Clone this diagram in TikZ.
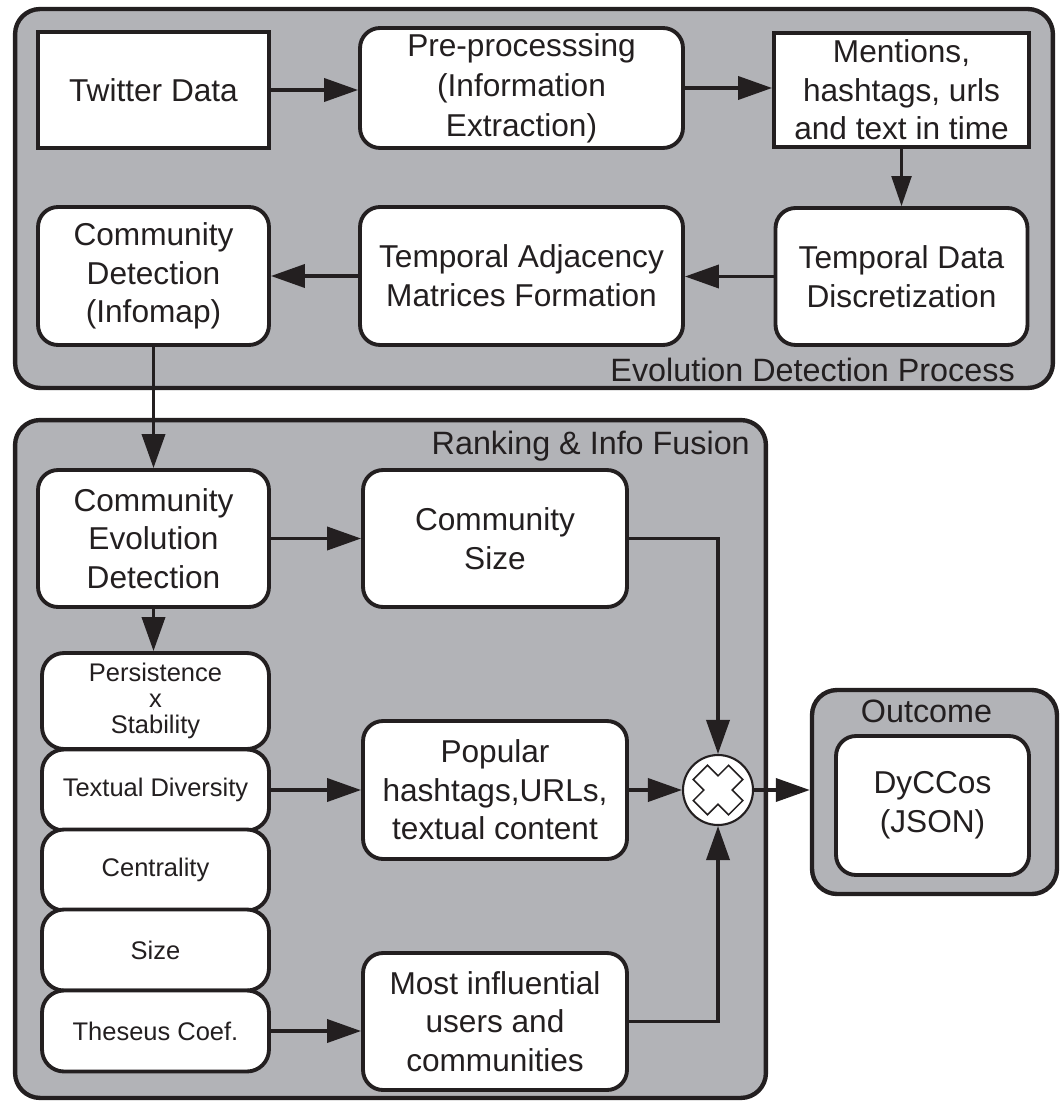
\documentclass[tikz,border=0pt]{standalone}
\usepackage{fontspec}
\setmainfont{Liberation Sans}
\usetikzlibrary{arrows.meta,positioning}
\definecolor{panelgray}{RGB}{178,179,183}
\definecolor{inkblack}{RGB}{35,31,32}

\begin{document}
\begin{tikzpicture}[x=0.02cm, y=-0.02cm, color=inkblack, >={Triangle[length=0.68cm, width=0.46cm]},
    group/.style={draw, fill=panelgray, rounded corners=0.5cm, line width=2.5pt, inner sep=0pt},
    grouplabel/.style={inner sep=0pt, font=\fontsize{18.4}{22}\selectfont},
    stepbox/.style={draw, fill=white, line width=2.2pt, align=center, inner sep=0pt, font=\fontsize{18}{22}\selectfont},
    roundbox/.style={stepbox, rounded corners=0.4cm},
    metric/.style={roundbox, rounded corners=0.44cm, minimum width=4.54cm, minimum height=1.62cm, font=\fontsize{14.5}{15}\selectfont},
    flow/.style={->, line width=2.1pt}]
    \useasboundingbox (0,0) rectangle (1063,1101);

    % containers
    \node (U) [group, minimum width=20.76cm, minimum height=7.58cm] at (534,198.5) {};
    \node (V) [group, minimum width=15.02cm, minimum height=13.56cm] at (390.5,759) {};
    \node (W) [group, minimum width=4.9cm, minimum height=4.08cm] at (934.5,792) {};
    \node (Ulbl) [grouplabel, anchor=base east] at ([shift={(-40,-9)}]U.south east) {Evolution Detection Process};
    \node (Vlbl) [grouplabel, anchor=base east] at ([shift={(-18,37)}]V.north east) {Ranking \& Info Fusion};
    \node (Wlbl) [grouplabel, anchor=base] at ([shift={(-8,35)}]W.north) {Outcome};

    % evolution detection
    \node (A) [stepbox, minimum width=4.62cm, minimum height=2.32cm] at (153.5,90) {Twitter Data};
    \node (B) [roundbox, minimum width=6.46cm, minimum height=2.4cm, font=\fontsize{18}{22.8}\selectfont] at (521.5,88) {Pre-processsing\\(Information\\Extraction)};
    \node (C) [stepbox, minimum width=5.1cm, minimum height=2.28cm] at (901.5,90) {Mentions,\\hashtags, urls\\and text in time};
    \node (D) [roundbox, minimum width=5.04cm, minimum height=2.74cm] at (901.5,276.5) {Temporal Data\\Discretization};
    \node (E) [roundbox, minimum width=6.46cm, minimum height=2.76cm] at (521.5,276) {Temporal Adjacency\\Matrices Formation};
    \node (F) [roundbox, minimum width=4.62cm, minimum height=2.76cm] at (153.5,276) {Community\\Detection\\(Infomap)};

    % ranking
    \node (G) [roundbox, minimum width=4.62cm, minimum height=2.74cm] at (153.5,538.5) {Community\\Evolution\\Detection};
    \node (H) [roundbox, minimum width=5.28cm, minimum height=2.74cm] at (495,538.5) {Community\\Size};
    \node (I) [metric, minimum height=1.92cm] at (155.5,701) {Persistence\\x\\Stability};
    \node (J) [metric] at (155.5,790) {Textual Diversity};
    \node (K) [metric] at (155.5,870) {Centrality};
    \node (L) [metric] at (155.5,950) {Size};
    \node (M) [metric] at (155.5,1031) {Theseus Coef.};
    \node (N) [roundbox, minimum width=5.28cm, minimum height=2.76cm] at (495,790) {Popular\\hashtags,URLs,\\textual content};
    \node (O) [roundbox, minimum width=5.28cm, minimum height=2.74cm] at (495,1021.5) {Most influential\\users and\\communities};
    \node (X) [circle, draw, fill=white, line width=1.2pt, minimum size=1.4cm, inner sep=0pt] at (718,790) {};
    \draw[line width=0.9pt, fill=white, shift={(X.center)}, rotate=45] (-25,-10) -- (-10,-10) -- (-10,-25) -- (10,-25) -- (10,-10) -- (25,-10) -- (25,10) -- (10,10) -- (10,25) -- (-10,25) -- (-10,10) -- (-25,10) -- cycle;

    % outcome
    \node (P) [roundbox, minimum width=3.86cm, minimum height=2.78cm] at (932.5,805.5) {DyCCos\\(JSON)};

    \draw[flow] (A.east) -- (A.east -| B.west);
    \draw[flow] (B.east) -- (B.east -| C.west);
    \draw[->, >={Triangle[length=0.6cm, width=0.4cm]}, line width=1.3pt] (C.south) -- (C.south |- D.north);
    \draw[flow] (D.west) -- (D.west -| E.east);
    \draw[flow] (E.west) -- (E.west -| F.east);
    \draw[flow] (F.south) -- (F.south |- G.north);
    \draw[flow] (G.east) -- (G.east -| H.west);
    \draw[flow] (G.south) -- (G.south |- I.north);
    \draw[flow] (H.east) -| (X.north);
    \draw[flow] (J.east) -- (J.east -| N.west);
    \draw[flow] (N.east) -- (X.west);
    \draw[flow] (M.east) -- (M.east -| O.west);
    \draw[flow] (O.east) -| (X.south);
    \draw[flow] (X.east) -- (X.east -| W.west);
\end{tikzpicture}
\end{document}
